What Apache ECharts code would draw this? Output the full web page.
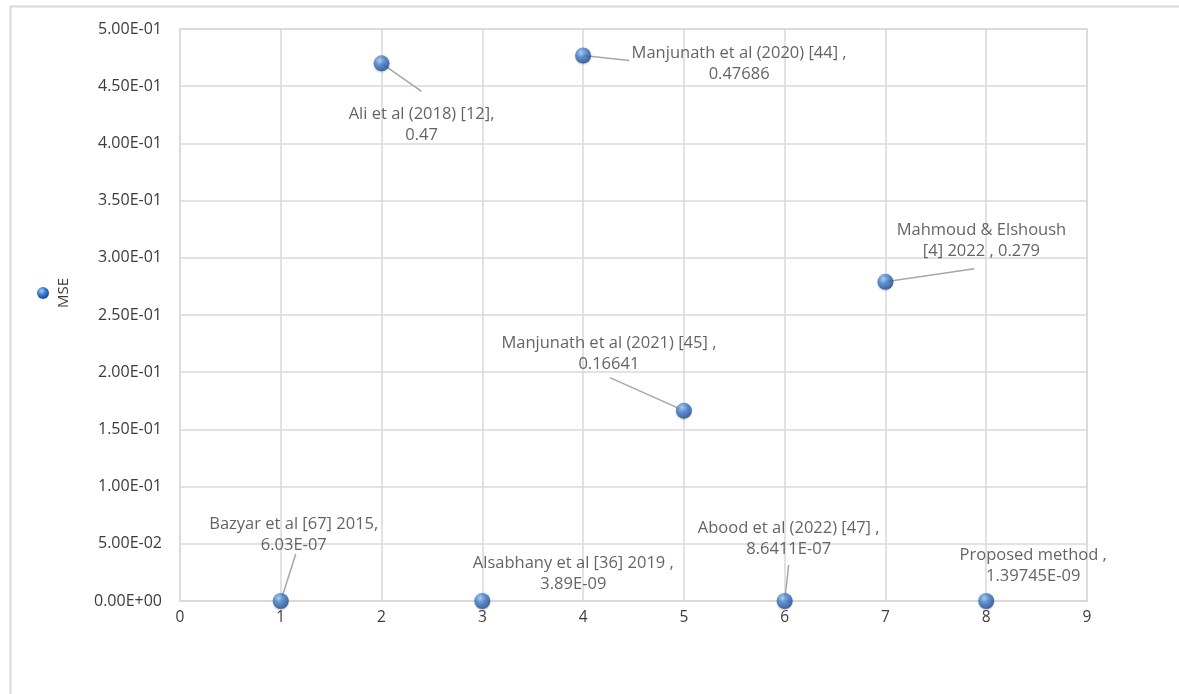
<!DOCTYPE html>
<html>
<head>
<meta charset="utf-8">
<script src="https://cdn.jsdelivr.net/npm/echarts@6/dist/echarts.min.js"></script>
<style>
html,body{margin:0;padding:0;background:#fff;}
#chart{width:1179px;height:694px;}
</style>
</head>
<body>
<div id="chart"></div>
<script>
// ---- data ----
const seriesName = 'MSE';
const xValues = [1, 2, 3, 4, 5, 6, 7, 8];
const mseValues = [6.03e-7, 0.47, 3.89e-9, 0.47686, 0.16641, 8.6411e-7, 0.279, 1.39745e-9];
const pointLabels = [
  'Bazyar et al [67] 2015,\n6.03E-07',
  'Ali et al (2018) [12],\n0.47',
  'Alsabhany et al [36] 2019 ,\n3.89E-09',
  'Manjunath et al (2020) [44] ,\n0.47686',
  'Manjunath et al (2021) [45] ,\n0.16641',
  'Abood et al (2022) [47] ,\n8.6411E-07',
  'Mahmoud & Elshoush\n[4] 2022 , 0.279',
  'Proposed method ,\n1.39745E-09'
];
const xTicks = { min: 0, max: 9, interval: 1 };
const yTicks = { min: 0, max: 0.5, interval: 0.05 };

// ---- styling: label offsets and leader-line end offsets from each point (px) ----
const labelOffsets = [[13,-66],[40,61],[91,-27],[156,8],[-75,-57],[4,-62],[96,-41],[47,-35]];
const leaderEnds = [[15,-47],[40,28],null,[46,5],[-74,-33],[4,-36],[89,-13],null];

const FONT = 'Open Sans';
const TXT = '#3c3c3c';
const GRID = '#d9d9d9';

function sciFmt(v){
  let s = Number(v).toExponential(2);
  let m = s.split('e');
  let exp = parseInt(m[1],10);
  let sign = exp < 0 ? '-' : '+';
  let a = Math.abs(exp);
  return m[0] + 'E' + sign + (a < 10 ? '0' + a : '' + a);
}

const sphere = {
  type: 'radial', x: 0.38, y: 0.32, r: 0.7,
  colorStops: [
    {offset: 0, color: '#a9cdf5'},
    {offset: 0.45, color: '#3f7fd0'},
    {offset: 1, color: '#1c4788'}
  ]
};

const points = xValues.map((x,i)=>[x, mseValues[i]]);
const data = points.map((p,i)=>({ value: p, name: pointLabels[i] }));

const chart = echarts.init(document.getElementById('chart'), null, {renderer:'canvas'});
chart.setOption({
  backgroundColor: '#fff',
  animation: false,
  grid: { left: 180, right: 92, top: 29, bottom: 93, show: true, borderColor: GRID, borderWidth: 1.5 },
  xAxis: {
    type: 'value', min: xTicks.min, max: xTicks.max, interval: xTicks.interval,
    axisLine: { show: true, onZero: false, lineStyle: { color: GRID, width: 1.5 } },
    axisTick: { show: false },
    splitLine: { show: true, lineStyle: { color: GRID, width: 1.5 } },
    axisLabel: { color: TXT, fontFamily: FONT, fontSize: 15.5, margin: 9 }
  },
  yAxis: {
    type: 'value', min: yTicks.min, max: yTicks.max, interval: yTicks.interval,
    axisLine: { show: false },
    axisTick: { show: false },
    splitLine: { show: true, lineStyle: { color: GRID, width: 1.5 } },
    axisLabel: { color: TXT, fontFamily: FONT, fontSize: 16, margin: 18, formatter: sciFmt }
  },
  series: [{
    name: 'leaders',
    type: 'custom',
    data: points,
    silent: true,
    z: 3,
    renderItem: function(params, api){
      const o = leaderEnds[params.dataIndex];
      if (!o) return null;
      const p = api.coord([api.value(0), api.value(1)]);
      return { type: 'line', shape: { x1: p[0], y1: p[1], x2: p[0] + o[0], y2: p[1] + o[1] },
               style: { stroke: '#a6a6a6', lineWidth: 1.5 } };
    }
  }, {
    name: seriesName,
    type: 'scatter',
    symbol: 'circle',
    symbolSize: 16,
    data: data,
    itemStyle: { color: sphere, shadowColor: 'rgba(0,0,0,0.25)', shadowBlur: 2, shadowOffsetY: 1 },
    label: {
      show: true, position: 'inside', align: 'center', verticalAlign: 'middle',
      formatter: p => p.name,
      color: TXT, fontFamily: FONT, fontSize: 16.5, lineHeight: 21
    },
    labelLine: { show: false },
    labelLayout: function(params){
      const o = labelOffsets[params.dataIndex];
      return { dx: o[0], dy: o[1] };
    },
    z: 5
  }],
  graphic: [
    { type: 'rect', left: 8, top: 4, shape: { width: 1300, height: 800 }, style: { fill: 'none', stroke: GRID, lineWidth: 2 }, silent: true },
    { type: 'circle', left: 37, top: 287, shape: { r: 6 }, style: { fill: sphere } },
    { type: 'text', x: 64, y: 293, rotation: Math.PI/2, style: { text: seriesName, fill: TXT, font: '15px "' + FONT + '"', textAlign: 'center', textVerticalAlign: 'middle' } }
  ]
});
</script>
</body>
</html>
